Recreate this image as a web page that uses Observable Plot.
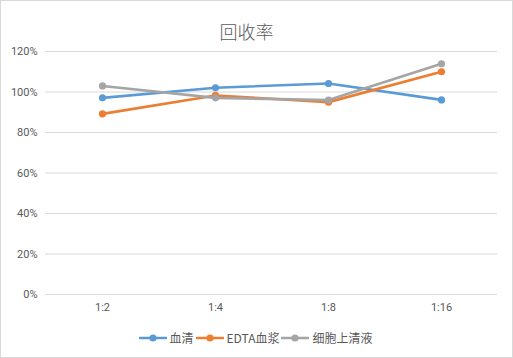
<!DOCTYPE html>
<html><head><meta charset="utf-8">
<script src="https://cdn.jsdelivr.net/npm/d3@7"></script>
<script src="https://cdn.jsdelivr.net/npm/@observablehq/plot@0.6"></script>
<style>
body{margin:0;background:#fff}
#chart{position:relative;width:513px;height:358px;overflow:hidden;background:#fff;font-family:"Noto Sans CJK SC","Noto Sans",sans-serif}
#border{position:absolute;left:0;top:0;width:513px;height:358px;box-sizing:border-box;border:1px solid #d9d9d9;pointer-events:none}
#title{position:absolute;top:17px;left:-10px;width:100%;text-align:center;font-size:18px;font-weight:300;color:#595959;line-height:28px}
#plot{position:absolute;left:0;top:0}
#legend{position:absolute;top:329px;left:-1px;width:100%;display:flex;justify-content:center;align-items:center;font-size:12px;color:#595959;line-height:18px}
.item{display:flex;align-items:center;margin:0 1px}
.item svg{margin-right:3px}
</style></head>
<body>
<div id="chart">
  <div id="title">回收率</div>
  <div id="plot"></div>
  <div id="legend"></div>
  <div id="border"></div>
</div>
<script>
const categories = ["1:2", "1:4", "1:8", "1:16"];
const seriesNames = ["血清", "EDTA血浆", "细胞上清液"];
const serum = [0.971, 1.021, 1.042, 0.961];
const edta = [0.892, 0.983, 0.950, 1.100];
const supernatant = [1.030, 0.971, 0.960, 1.139];
const yTicks = [0, 0.2, 0.4, 0.6, 0.8, 1.0, 1.2];
const colors = ["#5B9BD5", "#ED7D31", "#A5A5A5"];

const allSeries = [serum, edta, supernatant];
const data = [];
allSeries.forEach((vals, si) => vals.forEach((v, i) => data.push({series: seriesNames[si], cat: categories[i], value: v})));

const chart = Plot.plot({
  width: 513,
  height: 358,
  marginTop: 51,
  marginBottom: 64,
  marginLeft: 45,
  marginRight: 16,
  style: {fontFamily: "Roboto, sans-serif", fontSize: "11px", color: "#595959", background: "transparent"},
  x: {type: "point", domain: categories, padding: 0.5, label: null, tickSize: 0, tickPadding: 9},
  y: {domain: [0, 1.2], ticks: yTicks, tickFormat: d3.format(".0%"), label: null, tickSize: 0, tickPadding: 8},
  color: {domain: seriesNames, range: colors},
  marks: [
    Plot.ruleY(yTicks, {stroke: "#d9d9d9", strokeWidth: 1}),
    Plot.line(data, {x: "cat", y: "value", stroke: "series", z: "series", strokeWidth: 2.6, strokeLinejoin: "round", strokeLinecap: "round"}),
    Plot.dot(data, {x: "cat", y: "value", fill: "series", r: 3.6, stroke: null})
  ]
});
document.getElementById("plot").appendChild(chart);

const legend = document.getElementById("legend");
seriesNames.forEach((name, i) => {
  const item = document.createElement("div");
  item.className = "item";
  item.innerHTML = `<svg width="28" height="10"><line x1="1" x2="27" y1="5" y2="5" stroke="${colors[i]}" stroke-width="2.6" stroke-linecap="round"/><circle cx="14" cy="5" r="3.6" fill="${colors[i]}"/></svg><span>${name}</span>`;
  legend.appendChild(item);
});
</script>
</body></html>
